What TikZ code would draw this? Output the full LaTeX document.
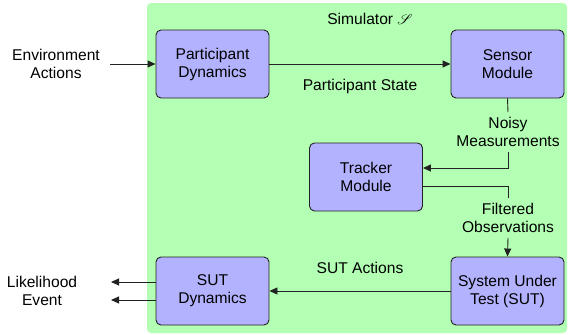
\documentclass[tikz,border=0pt]{standalone}
\usepackage{fontspec}
\setmainfont{Liberation Sans}
\usepackage{mathrsfs}
\usetikzlibrary{arrows.meta}
\definecolor{simgreen}{RGB}{179,255,179}
\definecolor{boxblue}{RGB}{178,178,255}
\definecolor{edge}{RGB}{34,34,34}
\begin{document}
\begin{tikzpicture}[x=1pt,y=-1pt,
  font=\fontsize{15.6}{18}\selectfont,
  block/.style={draw=edge,line width=0.9pt,rounded corners=5pt,fill=boxblue,
    minimum width=113pt,minimum height=68pt,align=center,inner sep=0pt},
  lbl/.style={align=center,inner sep=0pt},
  gaplbl/.style={align=center,inner xsep=0pt,inner ysep=5pt},
  arr/.style={draw=edge,line width=0.9pt,-{Triangle[length=8pt,width=7pt]}},
  ln/.style={draw=edge,line width=0.9pt}]
\useasboundingbox (0,0) rectangle (571,335);
% simulator region
\fill[simgreen,rounded corners=4pt] (147,3) rectangle (567,333);
\node[lbl] (simtitle) at (370,19) {Simulator $\mathscr{S}$};
% blocks
\node[block] (pd)  at (212.5,64)  {Participant\\Dynamics};
\node[block] (sm)  at (507.5,64)  {Sensor\\Module};
\node[block] (tm)  at (366,177)   {Tracker\\Module};
\node[block] (sd)  at (212.5,291) {SUT\\Dynamics};
\node[block] (sut) at (507.5,291) {System Under\\Test (SUT)};
% labels
\node[lbl] (env) at (56,64) {Environment\\Actions};
\node[lbl] (out) at (42,291) {Likelihood\\Event};
\node[lbl] (ps)  at (360,86) {Participant State};
\node[lbl] (sa)  at (360,268) {SUT Actions};
\node[gaplbl] (nm) at (508,132) {Noisy\\Measurements};
\node[gaplbl] (fo) at (508,218) {Filtered\\Observations};
\coordinate (envend) at (110,64);
\coordinate (likend) at (111,282);
\coordinate (evend)  at (111,300);
% connectors
\draw[arr] (envend) -- (pd.west);
\draw[arr] (pd.east) -- (sm.west);
\draw[ln] (sm.south) -- (nm.north);
\draw[arr] (nm.south) |- ([yshift=9pt]tm.east);
\draw[ln] ([yshift=-9pt]tm.east) -| (fo.north);
\draw[arr] (fo.south) -- (sut.north);
\draw[arr] (sut.west) -- (sd.east);
\draw[arr] ([yshift=9pt]sd.west) -- (likend);
\draw[arr] ([yshift=-9pt]sd.west) -- (evend);
\end{tikzpicture}
\end{document}
